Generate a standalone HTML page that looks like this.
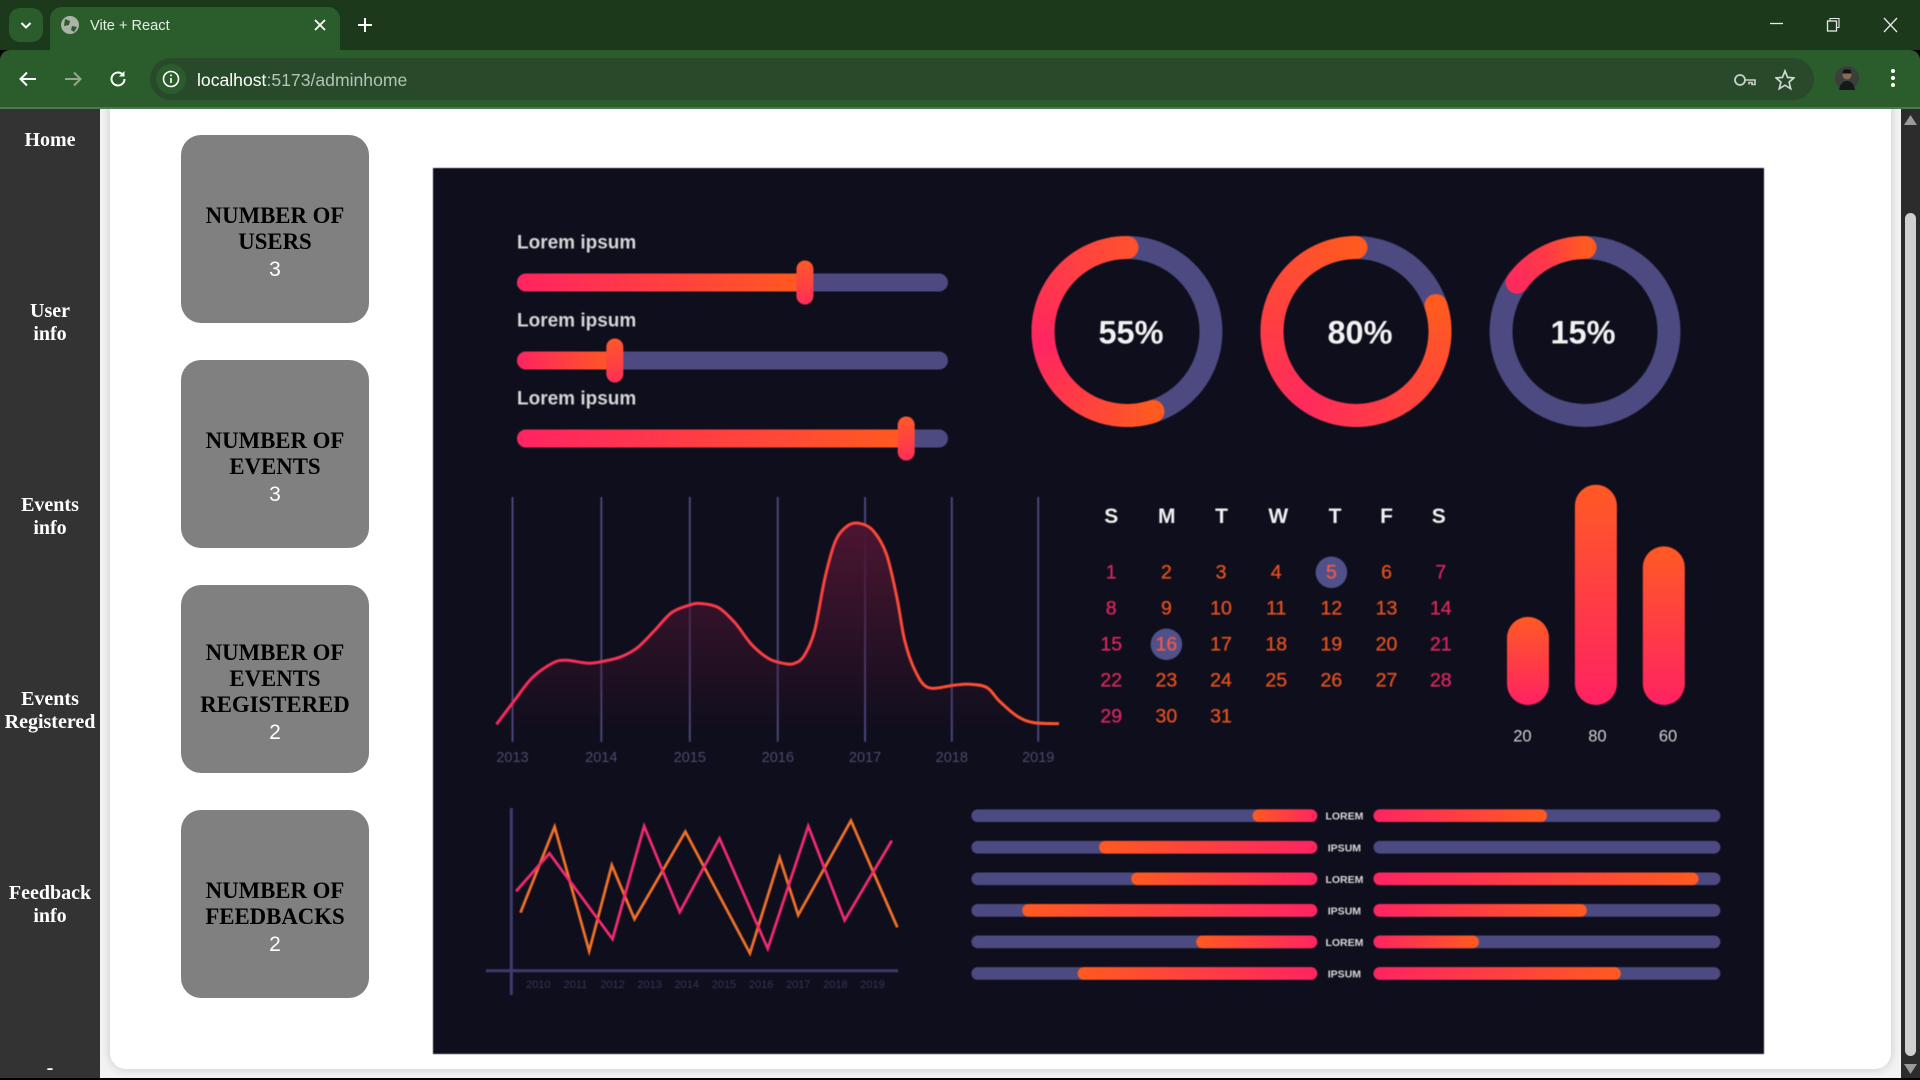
<!DOCTYPE html>
<html lang="en">
<head>
<meta charset="utf-8">
<title>Vite + React</title>
<style>
html,body{margin:0;padding:0;width:1920px;height:1080px;overflow:hidden;background:#000;}
*{box-sizing:border-box;}
.abs{position:absolute;}
#tabstrip{left:0;top:0;width:1920px;height:50px;background:#1c3a1b;}
#toolbar{left:0;top:50px;width:1920px;height:59px;background:#2a5d2b;border-bottom:2px solid #4a7a4d;border-radius:10px 10px 0 0;}
#tab{left:50px;top:7px;width:290px;height:45px;background:#2a5d2b;border-radius:12px 12px 0 0;}
#tabmenu{left:9px;top:8px;width:34px;height:34px;background:#2a5d2b;border-radius:11px;}
#tabtitle{left:90px;top:16px;font:14.6px/20px "Liberation Sans",sans-serif;color:#e6efe6;white-space:nowrap;}
#omni{left:150px;top:58px;width:1664px;height:42px;background:#28492a;border-radius:21px;}
#url{left:197px;top:69px;font:17.6px/22px "Liberation Sans",sans-serif;color:#fff;white-space:nowrap;}
#url span{color:#b4c3b4;}
#page{left:0;top:109px;width:1920px;height:969px;background:#f3f3f3;overflow:hidden;}
#sidebar{left:0;top:0;width:100px;height:969px;background:#333;}
.nav{position:absolute;left:0;width:100px;text-align:center;color:#fff;font:bold 20px/23px "Liberation Serif",serif;}
#panel{left:110px;top:-20px;width:1781px;height:980px;background:#fff;border-radius:0 0 16px 16px;box-shadow:0 0 10px rgba(0,0,0,.18);}
.card{position:absolute;left:181px;width:188px;height:188px;background:#808080;border-radius:20px;display:flex;flex-direction:column;align-items:center;justify-content:center;text-align:center;padding-top:28px;}
.card .t{font:bold 22.8px/26px "Liberation Serif",serif;color:#000;}
.card .n{font:21px/27px "Liberation Sans",sans-serif;color:#fff;margin-top:1px;}
#scrollbar{left:1901px;top:0;width:19px;height:969px;background:#2c2c2c;}
#thumb{left:4px;top:104px;width:11px;height:843px;background:#d0d0d0;border-radius:6px;}
#dash{left:433px;top:168px;width:1331px;height:886px;display:block;filter:blur(.6px);}
</style>
</head>
<body>
<div class="abs" id="tabstrip"></div>
<div class="abs" id="toolbar"></div>
<div class="abs" id="tabmenu">
  <svg width="34" height="34"><path d="M12.5 15l4.5 4.5 4.5-4.5" fill="none" stroke="#fff" stroke-width="2"/></svg>
</div>
<div class="abs" id="tab"></div>
<svg class="abs" style="left:60px;top:15px" width="20" height="20"><circle cx="10" cy="10" r="9" fill="#aab2aa"/><path d="M5 4l5 2-1 4-5 1zM12 11l5 1-3 5-3-2z" fill="#2a5d2b"/></svg>
<div class="abs" id="tabtitle">Vite + React</div>
<svg class="abs" style="left:312px;top:17px" width="16" height="16"><path d="M3 3l10 10M13 3L3 13" stroke="#fff" stroke-width="1.8"/></svg>
<svg class="abs" style="left:356px;top:16px" width="18" height="18"><path d="M9 2v14M2 9h14" stroke="#fff" stroke-width="2"/></svg>
<svg class="abs" style="left:1768px;top:15px" width="18" height="18"><path d="M2 8.5h13" stroke="#e8e8e8" stroke-width="1.3"/></svg>
<svg class="abs" style="left:1824px;top:16px" width="18" height="18"><rect x="3.5" y="5" width="9" height="10" fill="none" stroke="#e8e8e8" stroke-width="1.3"/><path d="M6 5V2.5h9v9h-2.5" fill="none" stroke="#e8e8e8" stroke-width="1.1"/></svg>
<svg class="abs" style="left:1882px;top:16px" width="18" height="18"><path d="M2 2l13 14M15 2L2 16" stroke="#e8e8e8" stroke-width="1.3"/></svg>
<svg class="abs" style="left:17px;top:68px" width="22" height="22"><path d="M19 11H4M10 4.5L3.5 11l6.5 6.5" fill="none" stroke="#fff" stroke-width="2"/></svg>
<svg class="abs" style="left:62px;top:68px" width="22" height="22"><path d="M3 11h15M12 4.5l6.5 6.5-6.5 6.5" fill="none" stroke="#8fa98f" stroke-width="2"/></svg>
<svg class="abs" style="left:107px;top:68px" width="22" height="22"><path d="M17.5 11a6.5 6.5 0 1 1-2-4.7" fill="none" stroke="#fff" stroke-width="2"/><path d="M17.5 3v5.5H12z" fill="#fff"/></svg>
<div class="abs" id="omni"></div>
<svg class="abs" style="left:156px;top:64px" width="30" height="30"><circle cx="15" cy="15" r="15" fill="#2a5d2b"/><circle cx="15" cy="15" r="7.5" fill="none" stroke="#fff" stroke-width="1.6"/><path d="M15 14v5M15 10.5v1.8" stroke="#fff" stroke-width="1.6"/></svg>
<div class="abs" id="url">localhost<span>:5173/adminhome</span></div>
<svg class="abs" style="left:1733px;top:70px" width="24" height="20"><circle cx="7" cy="10" r="5" fill="none" stroke="#c8d0c8" stroke-width="1.8"/><path d="M12 10H22v4.500H19v-2H16v2" fill="none" stroke="#c8d0c8" stroke-width="1.6"/></svg>
<svg class="abs" style="left:1775px;top:69px" width="20" height="22"><path d="M10 2l2.6 6.4 6.4.5-4.9 4.2 1.6 6.6L10 16.2 4.300 19.700l1.600-6.600L1 8.900l6.400-.5z" fill="none" stroke="#d0d8d0" stroke-width="1.7"/></svg>
<svg class="abs" style="left:1835px;top:66px" width="24" height="24"><circle cx="12" cy="12" r="12" fill="#3a3f3c"/><circle cx="12" cy="9" r="4.500" fill="#8a6a55"/><path d="M7.500 7.500h9l-1-4h-7z" fill="#111"/><path d="M4 24c1-7 5-9 8-9s7 2 8 9z" fill="#15181a"/></svg>
<svg class="abs" style="left:1887px;top:68px" width="12" height="22"><circle cx="6" cy="3" r="2" fill="#fff"/><circle cx="6" cy="10" r="2" fill="#fff"/><circle cx="6" cy="17" r="2" fill="#fff"/></svg>

<div class="abs" id="page">
  <div class="abs" id="panel"></div>
  <div class="abs" id="sidebar">
    <div class="nav" style="top:20px">Home</div>
    <div class="nav" style="top:191px">User<br>info</div>
    <div class="nav" style="top:385px">Events<br>info</div>
    <div class="nav" style="top:579px">Events<br>Registered</div>
    <div class="nav" style="top:773px">Feedback<br>info</div>
    <div class="nav" style="top:948px">-</div>
  </div>
  <div class="card" style="top:26px"><div class="t">NUMBER OF<br>USERS</div><div class="n">3</div></div>
  <div class="card" style="top:251px"><div class="t">NUMBER OF<br>EVENTS</div><div class="n">3</div></div>
  <div class="card" style="top:476px"><div class="t">NUMBER OF<br>EVENTS<br>REGISTERED</div><div class="n">2</div></div>
  <div class="card" style="top:701px"><div class="t">NUMBER OF<br>FEEDBACKS</div><div class="n">2</div></div>
  <div class="abs" id="scrollbar">
    <svg class="abs" style="left:3px;top:6px" width="13" height="10"><path d="M6.500 0L13 10H0z" fill="#9a9a9a"/></svg>
    <div class="abs" id="thumb"></div>
    <svg class="abs" style="left:3px;top:955px" width="13" height="10"><path d="M0 0h13L6.500 10z" fill="#9a9a9a"/></svg>
  </div>
</div>

<svg class="abs" id="dash" viewBox="433 168 1331 886" xmlns="http://www.w3.org/2000/svg">
  <defs>
    <linearGradient id="gPinkOrange" x1="0" x2="1" y1="0" y2="0"><stop offset="0" stop-color="#ff2462"/><stop offset="1" stop-color="#ff5a20"/></linearGradient>
    <linearGradient id="gOrangePink" x1="0" x2="1" y1="0" y2="0"><stop offset="0" stop-color="#ff5a20"/><stop offset="1" stop-color="#ff2462"/></linearGradient>
    <linearGradient id="gBar" x1="0" x2="0" y1="0" y2="1"><stop offset="0" stop-color="#ff5a25"/><stop offset="1" stop-color="#ff2262"/></linearGradient>
    <linearGradient id="gHandle" x1="0" x2="0" y1="0" y2="1"><stop offset="0" stop-color="#ff5a28"/><stop offset="1" stop-color="#ff2e58"/></linearGradient>
    <linearGradient id="gCurve" gradientUnits="userSpaceOnUse" x1="495" x2="1058" y1="0" y2="0"><stop offset="0" stop-color="#f7285f"/><stop offset="1" stop-color="#ff5628"/></linearGradient>
    <linearGradient id="gArea" gradientUnits="userSpaceOnUse" x1="0" x2="0" y1="530" y2="735"><stop offset="0" stop-color="#4a1530"/><stop offset="1" stop-color="#4a1530" stop-opacity="0"/></linearGradient>
  </defs>
  <rect x="433" y="168" width="1331" height="886" fill="#0e0e1c"/>
  <g id="sliders"></g><g id="donuts"></g><g id="areaChart"></g><g id="calendar"></g><g id="bars"></g><g id="zigzag"></g><g id="dualBars"></g>
</svg>

<script>
// ---- chart data ----
var sliderLabels = ['Lorem ipsum', 'Lorem ipsum', 'Lorem ipsum'];
var sliderValues = [66.8, 22.7, 90.3];

var donutValues = [55, 80, 15];

var areaYears = ['2013', '2014', '2015', '2016', '2017', '2018', '2019'];
var areaX = [2012.80, 2013.00, 2013.21, 2013.45, 2013.60, 2013.84, 2014.01, 2014.22, 2014.41, 2014.60, 2014.80, 2015.01, 2015.13, 2015.33, 2015.52, 2015.71, 2015.90, 2016.05, 2016.19, 2016.31, 2016.43, 2016.55, 2016.67, 2016.81, 2016.95, 2017.10, 2017.25, 2017.37, 2017.46, 2017.58, 2017.73, 2018.02, 2018.21, 2018.40, 2018.54, 2018.74, 2018.93, 2019.22];
var areaValues = [7.5, 17.0, 26.6, 32.7, 33.7, 32.5, 33.2, 35.1, 38.9, 45.7, 53.2, 56.3, 56.9, 55.3, 49.1, 40.2, 34.5, 32.6, 32.3, 35.5, 45.7, 67.5, 82.5, 88.7, 89.6, 86.6, 77.1, 59.3, 41.6, 29.3, 22.5, 23.5, 23.9, 22.5, 17.0, 10.9, 8.2, 7.8];

var weekDays = ['S', 'M', 'T', 'W', 'T', 'F', 'S'];
var calendarDays = 31;
var highlightedDays = [5, 16];

var barLabels = ['20', '80', '60'];
var barValues = [40, 100, 72];

var zigzagYears = ['2010', '2011', '2012', '2013', '2014', '2015', '2016', '2017', '2018', '2019'];
var orangeX = [2009.52, 2010.44, 2011.37, 2011.98, 2012.59, 2013.96, 2015.70, 2016.50, 2017.00, 2018.42, 2019.67];
var orangeValues = [38.7, 96, 13.1, 70.4, 34.4, 92.7, 11.6, 75.3, 37.1, 100, 28.9];
var pinkX = [2009.40, 2010.30, 2012.00, 2012.85, 2013.81, 2014.88, 2016.18, 2017.27, 2018.25, 2019.52];
var pinkValues = [52.9, 78.2, 21.1, 96.4, 39.1, 88.2, 14.7, 96.4, 33.6, 86.7];

var dualLabels = ['LOREM', 'IPSUM', 'LOREM', 'IPSUM', 'LOREM', 'IPSUM'];
var dualLeftValues = [18.7, 63.1, 53.8, 85.3, 35.0, 69.3];
var dualRightValues = [50.0, 0, 93.7, 61.5, 30.4, 71.3];

// ---- helpers ----
var NS = 'http://www.w3.org/2000/svg';
function mk(parent, tag, attrs, text) {
  var el = document.createElementNS(NS, tag);
  for (var k in attrs) { el.setAttribute(k, attrs[k]); }
  if (text !== undefined) { el.textContent = text; }
  document.getElementById(parent).appendChild(el);
  return el;
}
var SANS = '"Liberation Sans", sans-serif';
function hex(c) { return [parseInt(c.substr(1, 2), 16), parseInt(c.substr(3, 2), 16), parseInt(c.substr(5, 2), 16)]; }
function mix(a, b, t) {
  var p = hex(a), q = hex(b);
  return 'rgb(' + Math.round(p[0] + (q[0] - p[0]) * t) + ',' + Math.round(p[1] + (q[1] - p[1]) * t) + ',' + Math.round(p[2] + (q[2] - p[2]) * t) + ')';
}
var el;

// ---- sliders ----
function sliderX(v) { return 517 + v / 100 * 431; }
function sliderY(i) { return 282.5 + i * 78; }
sliderValues.forEach(function (v, i) {
  var cy = sliderY(i);
  el = mk('sliders', 'text', { x: 517, y: cy - 34, fill: '#d6d6d6', 'font-family': SANS, 'font-size': 19, 'font-weight': 'bold' }, sliderLabels[i]);
  
  
  el = mk('sliders', 'rect', { x: 517, y: cy - 9, width: 431, height: 18, rx: 9, fill: '#4c4a80' });
  
  
  el = mk('sliders', 'rect', { x: 517, y: cy - 9, width: sliderX(v) - 517, height: 18, rx: 9, fill: 'url(#gPinkOrange)' });
  
  
  el = mk('sliders', 'rect', { x: sliderX(v) - 8.5, y: cy - 22, width: 17, height: 44, rx: 8.5, fill: 'url(#gHandle)' });
  
  
});

// ---- donuts ----
var donutCY = 331.5, donutR = 84, donutW = 23;
var donutStops = [['#ff5030', '#ff2562', '#ff5a20'], ['#ff5a20', '#ff2a5c', '#ff5a20'], ['#ff5a20', '#ff3a48', '#ff2a5c']];
function donutCX(i) { return 1127 + i * 229; }
function polar(cx, deg) { var a = deg * Math.PI / 180; return [cx + donutR * Math.sin(a), donutCY - donutR * Math.cos(a)]; }
function arcAngle(v) { return v / 100 * 360; }
donutValues.forEach(function (v, i) {
  var cx = donutCX(i), sweep = arcAngle(v), N = Math.max(8, Math.round(sweep / 3));
  el = mk('donuts', 'circle', { cx: cx, cy: donutCY, r: donutR, fill: 'none', stroke: '#4c4a80', 'stroke-width': donutW });
  
  
  var st = donutStops[i];
  function colorAt(t) { return t < 0.5 ? mix(st[0], st[1], t * 2) : mix(st[1], st[2], (t - 0.5) * 2); }
  var p0 = polar(cx, 0), p1 = polar(cx, -sweep);
  el = mk('donuts', 'circle', { cx: p0[0], cy: p0[1], r: donutW / 2, fill: colorAt(0) });
  
  
  el = mk('donuts', 'circle', { cx: p1[0], cy: p1[1], r: donutW / 2, fill: colorAt(1) });
  
  
  for (var s = 0; s < N; s++) {
    var a = polar(cx, -sweep * s / N), b = polar(cx, -sweep * Math.min(1, (s + 1.15) / N));
    el = mk('donuts', 'path', { d: 'M' + a[0] + ' ' + a[1] + 'A' + donutR + ' ' + donutR + ' 0 0 0 ' + b[0] + ' ' + b[1], fill: 'none', stroke: colorAt((s + 0.5) / N), 'stroke-width': donutW });
    
    
  }
  el = mk('donuts', 'text', { x: cx + [4, 4, -2][i], y: donutCY + 12, fill: '#f2f2f2', 'font-family': SANS, 'font-size': 32.5, 'font-weight': 'bold', 'text-anchor': 'middle' }, v + '%');
  
  
});

// ---- smooth area chart ----
function areaPX(year) { return 512.5 + (year - 2013) * 87.62; }
function gridPX(year) { return areaPX(year) + 2.4 * Math.sin((year - 2013) / 6 * Math.PI); }
function areaPY(v) { return 741.7 - v / 100 * 244.7; }
function smooth(xs, ys) {
  var d = 'M' + xs[0] + ' ' + ys[0];
  for (var i = 0; i < xs.length - 1; i++) {
    var i0 = Math.max(0, i - 1), i3 = Math.min(xs.length - 1, i + 2);
    d += 'C' + (xs[i] + (xs[i + 1] - xs[i0]) / 6) + ' ' + (ys[i] + (ys[i + 1] - ys[i0]) / 6) + ' ' +
      (xs[i + 1] - (xs[i3] - xs[i]) / 6) + ' ' + (ys[i + 1] - (ys[i3] - ys[i]) / 6) + ' ' + xs[i + 1] + ' ' + ys[i + 1];
  }
  return d;
}
areaYears.forEach(function (yr) {
  var x = gridPX(+yr);
  el = mk('areaChart', 'line', { x1: x, x2: x, y1: areaPY(100), y2: areaPY(0), stroke: '#47477a', 'stroke-width': 2 });
  
  
  el = mk('areaChart', 'text', { x: x, y: 762, fill: '#4a4a70', 'font-family': SANS, 'font-size': 14.5, 'text-anchor': 'middle' }, yr);
  
  
});
var apx = areaX.map(function (y) { return areaPX(y) + 1.5; }), apy = areaValues.map(function (v) { return areaPY(v) + 1; });
var curveD = smooth(apx, apy);
el = mk('areaChart', 'path', { d: curveD + 'L' + apx[apx.length - 1] + ' ' + areaPY(0) + 'L' + apx[0] + ' ' + areaPY(0) + 'Z', fill: 'url(#gArea)' });


el = mk('areaChart', 'path', { d: curveD, fill: 'none', stroke: 'url(#gCurve)', 'stroke-width': 3 });



// ---- calendar ----
var dayColX = [1111.2, 1166.4, 1221, 1276.2, 1331.4, 1386.5, 1440.8];
var headColX = [1111.2, 1166.8, 1221.5, 1278.3, 1335, 1386.5, 1438.7];
function calY(row) { return 571.6 + row * 36; }
weekDays.forEach(function (d, i) {
  el = mk('calendar', 'text', { x: headColX[i], y: 523, fill: '#f0f0f0', 'font-family': SANS, 'font-size': 21, 'font-weight': 'bold', 'text-anchor': 'middle' }, d);
  
  
});
for (var day = 1; day <= calendarDays; day++) {
  var col = (day - 1) % 7, row = Math.floor((day - 1) / 7);
  var edge = col === 0 || col === 6;
  var numColor = highlightedDays.indexOf(day) >= 0 ? '#ee5a48' : (edge ? '#d8265c' : '#e2501f');
  if (highlightedDays.indexOf(day) >= 0) {
    el = mk('calendar', 'circle', { cx: dayColX[col], cy: calY(row) + 0.7, r: 15.8, fill: '#50508a' });
    
    
  }
  el = mk('calendar', 'text', { x: dayColX[col], y: calY(row) + 7, fill: numColor, stroke: numColor, 'stroke-width': 0.35, 'font-family': SANS, 'font-size': 19.5, 'text-anchor': 'middle' }, String(day));
  
  
}

// ---- vertical bars ----
function barX(i) { return 1507 + i * 67.9; }
function barH(v) { return v / 100 * 220.3; }
var barLabelX = [1522.4, 1597.4, 1668];
barValues.forEach(function (v, i) {
  var h = barH(v);
  el = mk('bars', 'rect', { x: barX(i), y: 705 - h, width: 42, height: h, rx: 21, fill: 'url(#gBar)' });
  
  
  el = mk('bars', 'text', { x: barLabelX[i], y: 741.5, fill: '#d2d2d2', 'font-family': SANS, 'font-size': 16.5, 'text-anchor': 'middle' }, barLabels[i]);
  
  
});

// ---- zigzag line chart ----
function zigX(year) { return 538.3 + (year - 2010) * 37.13; }
function zigY(v) { return 970.7 - v * 1.5; }
el = mk('zigzag', 'line', { x1: 511.3, x2: 511.3, y1: 808, y2: 995, stroke: '#3f3a70', 'stroke-width': 3 });


el = mk('zigzag', 'line', { x1: 486, x2: 898, y1: 970.7, y2: 970.7, stroke: '#3f3a70', 'stroke-width': 3 });


zigzagYears.forEach(function (yr) {
  el = mk('zigzag', 'text', { x: zigX(+yr), y: 988, fill: '#363558', 'font-family': SANS, 'font-size': 11, 'text-anchor': 'middle' }, yr);
  
  
});
function polyPts(xs, ys) { return xs.map(function (x, i) { return zigX(x) + ',' + zigY(ys[i]); }).join(' '); }
el = mk('zigzag', 'polyline', { points: polyPts(orangeX, orangeValues), fill: 'none', stroke: '#f0702a', 'stroke-width': 2.8, 'stroke-linejoin': 'miter' });


el = mk('zigzag', 'polyline', { points: polyPts(pinkX, pinkValues), fill: 'none', stroke: '#f02a70', 'stroke-width': 2.8, 'stroke-linejoin': 'miter' });



// ---- mirrored bars ----
var dualH = 12.7, leftX0 = 971.4, leftW = 345.9, rightX0 = 1373.5, rightW = 346.9;
function dualY(i) { return 815.7 + i * 31.55; }
function leftLen(v) { return v / 100 * leftW; }
function rightLen(v) { return v / 100 * rightW; }
dualLabels.forEach(function (lab, i) {
  var y = dualY(i) - dualH / 2;
  el = mk('dualBars', 'rect', { x: leftX0, y: y, width: leftW, height: dualH, rx: dualH / 2, fill: '#4c4a80' });
  
  
  el = mk('dualBars', 'rect', { x: leftX0 + leftW - leftLen(dualLeftValues[i]), y: y, width: leftLen(dualLeftValues[i]), height: dualH, rx: dualH / 2, fill: 'url(#gOrangePink)' });
  
  
  el = mk('dualBars', 'rect', { x: rightX0, y: y, width: rightW, height: dualH, rx: dualH / 2, fill: '#4c4a80' });
  
  
  el = mk('dualBars', 'rect', { x: rightX0, y: y, width: rightLen(dualRightValues[i]), height: dualH, rx: dualH / 2, fill: 'url(#gPinkOrange)' });
  
  
  el = mk('dualBars', 'text', { x: 1344.4, y: dualY(i) + 4, fill: '#dadada', 'font-family': SANS, 'font-size': 10.5, 'font-weight': 'bold', 'text-anchor': 'middle' }, lab);
  
  
});
</script>
</body>
</html>
